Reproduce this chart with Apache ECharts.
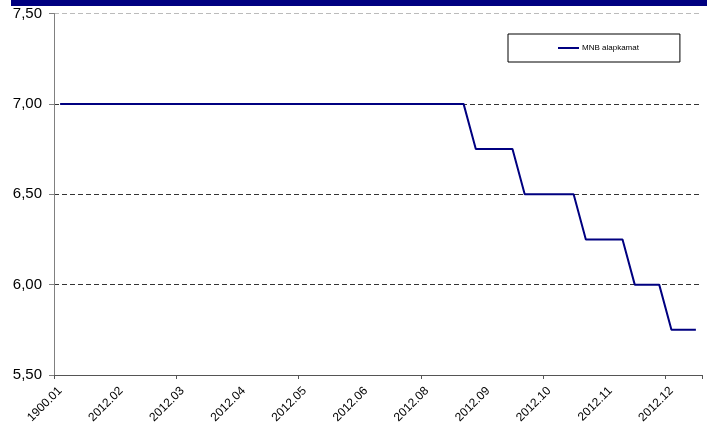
<!DOCTYPE html>
<html>
<head>
<meta charset="utf-8">
<script src="https://cdn.jsdelivr.net/npm/echarts@6/dist/echarts.min.js"></script>
<style>
html,body{margin:0;padding:0;background:#fff;}
#chart{width:707px;height:428px;}
</style>
</head>
<body>
<div id="chart"></div>
<script>
var seriesName = 'MNB alapkamat';
var categories = [
  '1900.01','2012.01','2012.01','2012.01','2012.01',
  '2012.02','2012.02','2012.02','2012.02','2012.02',
  '2012.03','2012.03','2012.03','2012.03','2012.03',
  '2012.04','2012.04','2012.04','2012.04','2012.04',
  '2012.05','2012.05','2012.05','2012.05','2012.05',
  '2012.06','2012.06','2012.06','2012.07','2012.07',
  '2012.08','2012.08','2012.08','2012.08','2012.08',
  '2012.09','2012.09','2012.09','2012.09','2012.09',
  '2012.10','2012.10','2012.10','2012.10','2012.10',
  '2012.11','2012.11','2012.11','2012.11','2012.11',
  '2012.12','2012.12','2012.12'
];
var rates = [
  7.00,7.00,7.00,7.00,7.00,
  7.00,7.00,7.00,7.00,7.00,
  7.00,7.00,7.00,7.00,7.00,
  7.00,7.00,7.00,7.00,7.00,
  7.00,7.00,7.00,7.00,7.00,
  7.00,7.00,7.00,7.00,7.00,
  7.00,7.00,7.00,7.00,6.75,
  6.75,6.75,6.75,6.50,6.50,
  6.50,6.50,6.50,6.25,6.25,
  6.25,6.25,6.00,6.00,6.00,
  5.75,5.75,5.75
];
var yMin = 5.5, yMax = 7.5, yStep = 0.5;

var chart = echarts.init(document.getElementById('chart'));
chart.setOption({
  animation: false,
  textStyle: {fontFamily: 'Liberation Sans, Arial, sans-serif'},
  graphic: [{
    type: 'rect', left: 11, top: 0,
    shape: {width: 696, height: 6},
    style: {fill: '#000080'}
  }],
  grid: {left: 54, right: 5, top: 13.5, bottom: 53, containLabel: false},
  legend: {
    left: 508, top: 34,
    padding: [10, 41, 10, 50],
    borderColor: '#000', borderWidth: 1,
    icon: 'rect',
    itemWidth: 21, itemHeight: 2, itemGap: 0,
    itemStyle: {color: '#000080'},
    textStyle: {fontSize: 8, color: '#000', padding: [0,0,0,-2]},
    data: [seriesName]
  },
  xAxis: {
    type: 'category',
    data: categories,
    boundaryGap: true,
    axisLine: {lineStyle: {color: '#555', width: 1}},
    axisTick: {show: true, interval: 9, length: 4, lineStyle: {color: '#555'}},
    axisLabel: {interval: 4, rotate: 45, fontSize: 12, color: '#000', margin: 14}
  },
  yAxis: {
    type: 'value',
    min: yMin, max: yMax, interval: yStep,
    axisLine: {show: true, lineStyle: {color: '#808080'}},
    axisTick: {show: true, length: 5, lineStyle: {color: '#808080'}},
    axisLabel: {fontSize: 15, color: '#000', margin: 12,
      formatter: function(v){ return v.toFixed(2).replace('.', ','); }},
    splitLine: {show: true, lineStyle: {type: [5,3], color: ['#333','#333','#333','#333','#bbb'], width: 1}}
  },
  series: [{
    name: seriesName,
    type: 'line',
    data: rates,
    symbol: 'none',
    lineStyle: {color: '#000080', width: 2},
    itemStyle: {color: '#000080'}
  }]
});
</script>
</body>
</html>
